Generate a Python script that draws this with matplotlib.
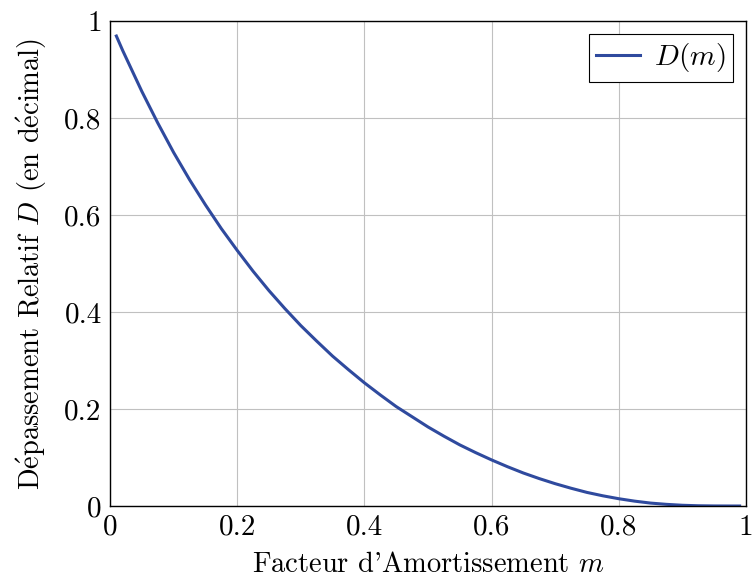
import matplotlib
matplotlib.use("Agg")
import matplotlib.pyplot as plt

# valeurs
m = [0.01, 0.02, 0.05, 0.075, 0.10, 0.125, 0.15, 0.175, 0.20, 0.225, 0.25, 0.275,
     0.30, 0.325, 0.35, 0.375, 0.40, 0.425, 0.45, 0.475, 0.50, 0.525, 0.55, 0.575,
     0.60, 0.625, 0.65, 0.675, 0.70, 0.725, 0.75, 0.775, 0.80, 0.825, 0.85, 0.875,
     0.90, 0.925, 0.95, 0.975, 0.99]
D = [0.969, 0.939, 0.855, 0.790, 0.729, 0.673, 0.621, 0.572, 0.527, 0.484, 0.444, 0.407,
     0.372, 0.340, 0.309, 0.281, 0.254, 0.229, 0.205, 0.184, 0.163, 0.144, 0.126, 0.110,
     0.095, 0.081, 0.068, 0.0565, 0.046, 0.0366, 0.028, 0.021, 0.015, 0.010, 0.006, 0.0034,
     0.0015, 0.0005, 0.0001, 0.0, 0.0]

plt.rcParams['font.family'] = ['cmr10', 'DejaVu Serif']
plt.rcParams['mathtext.fontset'] = 'cm'
plt.rcParams['axes.formatter.use_mathtext'] = True

fig = plt.figure(figsize=(7.53, 5.83), dpi=100)
ax = fig.add_axes([110/753, 1-506/583, (746-110)/753, (506-21)/583])

ax.plot(m, D, color='#2f4a9e', lw=2.2, label=r'$D(m)$')

ax.set_xlim(0, 1)
ax.set_ylim(0, 1)
ticks = [0, 0.2, 0.4, 0.6, 0.8, 1]
labels = ['0', '0.2', '0.4', '0.6', '0.8', '1']
ax.set_xticks(ticks)
ax.set_xticklabels(labels)
ax.set_yticks(ticks)
ax.set_yticklabels(labels)
ax.tick_params(length=0, labelsize=21, pad=6)
ax.grid(True, color='#c0c0c0', lw=0.8)
for s in ax.spines.values():
    s.set_linewidth(1.0)

ax.set_xlabel(r"Facteur d'Amortissement $m$", fontsize=20.5, labelpad=8)
ax.set_ylabel(r"D$\mathrm{\acute{e}}$passement Relatif $D$ (en d$\mathrm{\acute{e}}$cimal)",
              fontsize=20.5, labelpad=11)

leg = ax.legend(loc='upper right', fontsize=21, fancybox=False, framealpha=1,
                edgecolor='black', handlelength=1.5, borderpad=0.25,
                handletextpad=0.5, borderaxespad=0.45)
leg.get_frame().set_linewidth(0.8)

fig.savefig('out.png', dpi=100)
